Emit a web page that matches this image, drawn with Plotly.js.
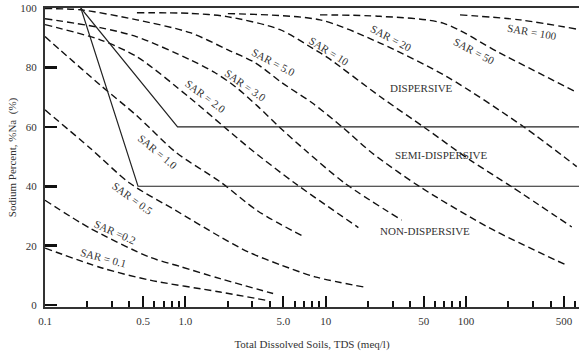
<!DOCTYPE html>
<html>
<head>
<meta charset="utf-8">
<script src="https://cdn.plot.ly/plotly-3.0.1.min.js"></script>
<style>html,body{margin:0;padding:0;background:#fff;}#chart{width:579px;height:356px;}</style>
</head>
<body>
<div id="chart"></div>
<script>
// ---- tick labels ----
const xTickVals = [0.1, 0.5, 1, 5, 10, 50, 100, 500];
const xTickText = ['0.1', '0.5', '1.0', '5.0', '10', '50', '100', '500'];
const xMinorTickVals = [0.2, 0.3, 0.4, 0.6, 0.7, 0.8, 0.9, 2, 3, 4, 6, 7, 8, 9, 20, 30, 40, 60, 70, 80, 90, 200, 300, 400, 600];
const yTickVals = [0, 20, 40, 60, 80, 100];

// ---- SAR curves (TDS meq/l, Sodium %) ----
const sarNames = ['SAR = 0.1', 'SAR =0.2', 'SAR = 0.5', 'SAR = 1.0', 'SAR = 2.0', 'SAR = 3.0', 'SAR = 5.0', 'SAR = 10', 'SAR = 20', 'SAR = 50', 'SAR = 100'];

const sar01X = [0.1, 0.259, 0.56, 1.77, 3.88];
const sar01Y = [19.2, 12.4, 8.4, 4.4, 1.5];

const sar02X = [0.1, 0.209, 0.56, 0.916, 1.77, 4.22];
const sar02Y = [35.3, 25.9, 16.1, 13.0, 8.9, 3.9];

const sar05X = [0.1, 0.209, 0.403, 0.844, 1.77, 2.80, 4.86, 8.40, 19.6];
const sar05Y = [65.7, 52.9, 41.0, 32.0, 23.0, 17.9, 13.4, 9.5, 5.9];

const sar1X = [0.1, 0.128, 0.247, 0.452, 0.868, 1.77, 3.30, 7.13];
const sar1Y = [90.4, 85.9, 74.1, 63.7, 51.2, 41.5, 31.6, 22.8];

const sar2X = [0.1, 0.247, 0.452, 1.08, 1.92, 2.97, 6.05, 17.1];
const sar2Y = [94.4, 89.3, 83.6, 69.7, 59.7, 52.2, 41.0, 26.1];

const sar3X = [0.1, 0.247, 0.452, 1.08, 1.63, 2.26, 3.30, 4.73, 7.13, 13.7, 34.8];
const sar3Y = [96.4, 93.4, 90.3, 82.6, 78.2, 73.6, 66.8, 59.7, 52.2, 41.0, 28.6];

const sar5X = [0.1, 0.178, 0.452, 1.08, 2.01, 3.14, 4.89, 7.99, 13.3, 21.4, 47.0, 148, 522];
const sar5Y = [99.8, 99.4, 96.0, 91.7, 85.9, 81.6, 74.8, 68.1, 59.7, 51.2, 39.8, 25.9, 13.4];

const sar10X = [0.452, 1.08, 1.98, 4.73, 8.40, 10.4, 24.4, 50.8, 107, 212, 567];
const sar10Y = [98.4, 98.2, 97.1, 92.7, 85.9, 83.2, 70.2, 59.7, 48.8, 39.8, 26.3];

const sar20X = [2.01, 9.11, 24.4, 72.9, 256, 615];
const sar20Y = [98.1, 96.0, 88.2, 76.9, 60.1, 46.6];

const sar50X = [9.11, 24.4, 68.6, 175, 598];
const sar50Y = [97.7, 97.2, 94.9, 84.8, 71.9];

const sar100X = [90.6, 243, 615];
const sar100Y = [97.7, 96.0, 92.9];

// ---- class boundaries ----
const upperBoundaryX = [0.18, 0.88, 650];
const upperBoundaryY = [100, 60, 60];
const lowerBoundaryX = [0.18, 0.46, 650];
const lowerBoundaryY = [100, 40, 40];

// ---- region labels ----
const regionNames = ['DISPERSIVE', 'SEMI-DISPERSIVE', 'NON-DISPERSIVE'];

// label anchor positions (layout)
const sarLabelX = [0.263, 0.315, 0.417, 0.638, 1.381, 2.662, 4.215, 10.56, 29.2, 114.0, 295.4];
const sarLabelY = [15.95, 24.65, 36.0, 51.5, 70.4, 74.1, 81.9, 85.6, 90.0, 85.6, 92.0];
const sarLabelAngle = [15, 24, 36, 40, 37, 35, 28, 32, 28, 28, 10];
const regionLabelX = [47.8, 66.4, 51.0];
const regionLabelY = [73.1, 50.5, 24.9];

const curvesX = [sar01X, sar02X, sar05X, sar1X, sar2X, sar3X, sar5X, sar10X, sar20X, sar50X, sar100X];
const curvesY = [sar01Y, sar02Y, sar05Y, sar1Y, sar2Y, sar3Y, sar5Y, sar10Y, sar20Y, sar50Y, sar100Y];

const FONT = 'Liberation Serif, Times New Roman, serif';
const traces = [];
curvesX.forEach((cx, i) => {
  traces.push({
    x: cx, y: curvesY[i], name: sarNames[i], type: 'scatter', mode: 'lines',
    line: {color: '#111', width: 1.4, dash: '7px,4px', shape: 'spline', smoothing: 0.8},
    hoverinfo: 'skip', showlegend: false
  });
});
traces.push({x: upperBoundaryX, y: upperBoundaryY, type: 'scatter', mode: 'lines',
  line: {color: '#222', width: 1.2}, hoverinfo: 'skip', showlegend: false});
traces.push({x: lowerBoundaryX, y: lowerBoundaryY, type: 'scatter', mode: 'lines',
  line: {color: '#222', width: 1.2}, hoverinfo: 'skip', showlegend: false});

const annotations = [];
sarNames.forEach((t, i) => {
  annotations.push({x: Math.log10(sarLabelX[i]), y: sarLabelY[i], xref: 'x', yref: 'y', text: t,
    showarrow: false, textangle: sarLabelAngle[i], font: {family: FONT, size: 11, color: '#333'}});
});
regionNames.forEach((t, i) => {
  annotations.push({x: Math.log10(regionLabelX[i]), y: regionLabelY[i], xref: 'x', yref: 'y', text: t,
    showarrow: false, font: {family: FONT, size: 11, color: '#333'}});
});

const layout = {
  width: 579, height: 356,
  margin: {l: 45, r: 0, t: 8, b: 49},
  paper_bgcolor: '#fff', plot_bgcolor: '#fff',
  font: {family: FONT, size: 11, color: '#333'},
  xaxis: {
    type: 'log', range: [-1, 2.805],
    tickmode: 'array', tickvals: xTickVals, ticktext: xTickText,
    ticks: 'inside', ticklen: 11, tickwidth: 2, tickcolor: '#111',
    minor: {tickmode: 'array', tickvals: xMinorTickVals, ticks: 'inside', ticklen: 6, tickwidth: 2, tickcolor: '#111', showgrid: false},
    showline: true, linecolor: '#333', linewidth: 2, mirror: true,
    showgrid: false, zeroline: false,
    tickfont: {family: FONT, size: 11, color: '#333'},
    ticklabelstandoff: 3,
    title: {text: 'Total Dissolved Soils, TDS (meq/l)', font: {family: FONT, size: 11, color: '#333'}, standoff: 14}
  },
  yaxis: {
    range: [-0.64, 100],
    tickmode: 'array', tickvals: yTickVals,
    ticks: 'inside', ticklen: 12, tickwidth: 2.5, tickcolor: '#111',
    showline: true, linecolor: '#333', linewidth: 2,
    showgrid: false, zeroline: false,
    tickfont: {family: FONT, size: 11, color: '#333'},
    ticklabelstandoff: 4,
    title: {text: 'Sodium Percent, %Na  (%)', font: {family: FONT, size: 11, color: '#333'}, standoff: 1}
  },
  annotations: annotations,
  showlegend: false
};

Plotly.newPlot('chart', traces, layout, {displayModeBar: false, staticPlot: true});
</script>
</body>
</html>
